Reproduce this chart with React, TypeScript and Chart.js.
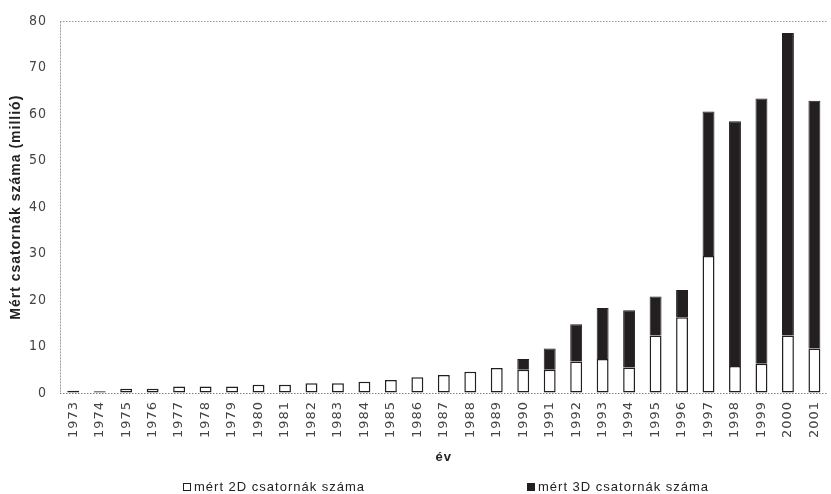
import React, { useEffect, useRef } from "react";
import { Chart, registerables } from "chart.js";

Chart.register(...registerables);

// Évek (kategóriák)
const years = [
  "1973", "1974", "1975", "1976", "1977", "1978", "1979", "1980", "1981", "1982",
  "1983", "1984", "1985", "1986", "1987", "1988", "1989", "1990", "1991", "1992",
  "1993", "1994", "1995", "1996", "1997", "1998", "1999", "2000", "2001",
];

// Mért 2D csatornák száma (millió)
const channels2D = [
  0.5, 0.4, 0.9, 0.9, 1.4, 1.4, 1.4, 1.8, 1.8, 2.1,
  2.1, 2.4, 2.8, 3.4, 3.9, 4.6, 5.4, 5.0, 5.0, 6.8,
  7.3, 5.5, 12.4, 16.3, 29.5, 5.8, 6.3, 12.4, 9.6,
];

// Mért 3D csatornák száma (millió); 1990 előtt nincs adat
const channels3D = [
  null, null, null, null, null, null, null, null, null, null,
  null, null, null, null, null, null, null, 2.3, 4.6, 8.0,
  11.0, 12.3, 8.4, 5.9, 31.1, 52.7, 57.1, 65.1, 53.3,
];

const yTicks = [0, 10, 20, 30, 40, 50, 60, 70, 80];

const seriesLabels = ["mért 2D csatornák száma", "mért 3D csatornák száma"];
const axisTitleY = "Mért csatornák száma (millió)";
const axisTitleX = "év";

const DARK = "#231f20";
const SPACING = "1px";

// Slightly tracked text everywhere, as in the printed figure
const trackingPlugin = {
  id: "tracking",
  beforeUpdate(chart: any) {
    chart.ctx.letterSpacing = SPACING;
  },
  beforeLayout(chart: any) {
    chart.ctx.letterSpacing = SPACING;
  },
  beforeDraw(chart: any) {
    chart.ctx.letterSpacing = SPACING;
  },
};

// Legend under the axis title, two items set apart
const wideLegendPlugin = {
  id: "wideLegend",
  afterDraw(chart: any) {
    const ctx = chart.ctx;
    const xs = [183, 527];
    const yc = 487;
    ctx.save();
    ctx.letterSpacing = SPACING;
    ctx.font = "13px 'Liberation Sans', Arial, sans-serif";
    ctx.textBaseline = "middle";
    ctx.textAlign = "left";
    chart.data.datasets.forEach((ds: any, i: number) => {
      const x = xs[i];
      const size = 8;
      ctx.fillStyle = ds.backgroundColor;
      ctx.fillRect(x, yc - size / 2, size, size);
      ctx.strokeStyle = ds.borderColor;
      ctx.lineWidth = 1;
      ctx.strokeRect(x + 0.5, yc - size / 2 + 0.5, size - 1, size - 1);
      ctx.fillStyle = "#222";
      ctx.fillText(ds.label, x + size + 3, yc);
    });
    ctx.restore();
  },
};

export default function App() {
  const canvasRef = useRef<HTMLCanvasElement | null>(null);

  useEffect(() => {
    const canvas = canvasRef.current;
    if (!canvas) return;

    const chart = new Chart(canvas, {
      type: "bar",
      data: {
        labels: years,
        datasets: [
          {
            label: seriesLabels[0],
            data: channels2D,
            backgroundColor: "#ffffff",
            borderColor: DARK,
            borderWidth: 1.5,
            borderSkipped: false,
            stack: "s",
          },
          {
            label: seriesLabels[1],
            data: channels3D,
            backgroundColor: DARK,
            borderColor: DARK,
            borderWidth: 1,
            stack: "s",
          },
        ],
      },
      options: {
        responsive: false,
        animation: false,
        events: [],
        layout: { padding: { top: 19, right: 0, bottom: 26, left: 0 } },
        datasets: {
          bar: { categoryPercentage: 1, barPercentage: 0.45 },
        },
        plugins: {
          legend: { display: false },
          tooltip: { enabled: false },
        },
        scales: {
          x: {
            stacked: true,
            offset: true,
            afterFit: (scale: any) => {
              scale.height = 75;
            },
            grid: {
              offset: true,
              drawTicks: false,
              color: (c: any) => (c.index === 0 ? "#9a9a9a" : "transparent"),
            },
            border: { display: false, dash: [2, 1] },
            ticks: {
              autoSkip: false,
              minRotation: 90,
              maxRotation: 90,
              padding: 8,
              color: "#444",
              font: { family: "'DejaVu Sans', sans-serif", size: 13 },
            },
            title: {
              display: true,
              text: axisTitleX,
              color: "#222",
              font: { family: "'Liberation Sans', Arial, sans-serif", size: 13, weight: "bold" },
              padding: { top: 0, bottom: 3 },
            },
          },
          y: {
            stacked: true,
            min: 0,
            max: 80,
            afterFit: (scale: any) => {
              scale.width = 60;
            },
            afterBuildTicks: (scale: any) => {
              scale.ticks = yTicks.map((v) => ({ value: v }));
            },
            grid: {
              drawTicks: false,
              color: (c: any) =>
                c.tick && c.tick.value === 80
                  ? "#9a9a9a"
                  : c.tick && c.tick.value === 0
                  ? "#808080"
                  : "transparent",
            },
            border: { display: false, dash: [1.5, 1.5] },
            ticks: {
              padding: 13,
              color: "#444",
              font: {
                family: "'Liberation Sans Narrow', 'DejaVu Sans Condensed', 'Liberation Sans', sans-serif",
                size: 14,
              },
            },
            title: {
              display: true,
              text: axisTitleY,
              color: "#222",
              font: { family: "'Liberation Sans', Arial, sans-serif", size: 14, weight: "bold" },
              padding: { top: 7.5, bottom: 0 },
            },
          },
        },
      },
      plugins: [trackingPlugin, wideLegendPlugin],
    } as any);

    return () => chart.destroy();
  }, []);

  return (
    <div
      style={{
        position: "fixed",
        left: 0,
        top: 0,
        width: 831,
        height: 494,
        overflow: "hidden",
        background: "#ffffff",
      }}
    >
      <canvas ref={canvasRef} width={838} height={494} style={{ display: "block" }} />
    </div>
  );
}
